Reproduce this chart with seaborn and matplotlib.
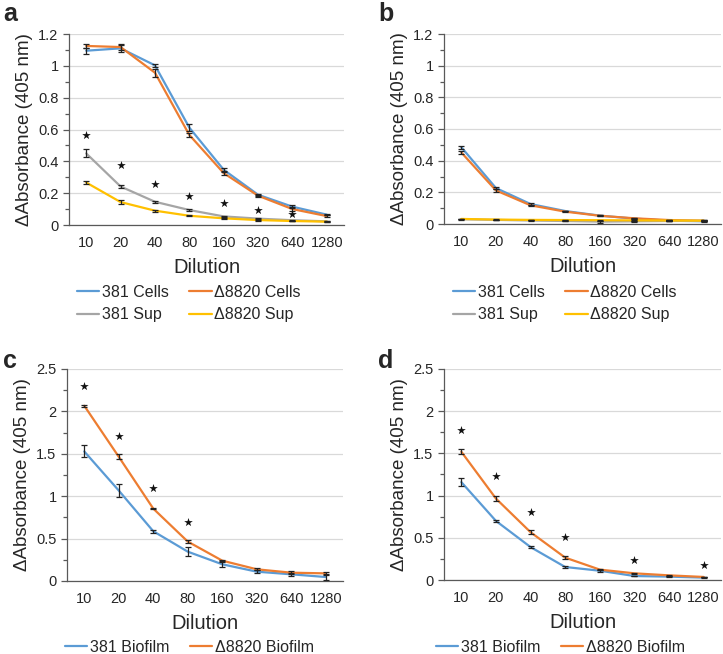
import numpy as np
import pandas as pd
import matplotlib
matplotlib.use("Agg")
import matplotlib.pyplot as plt
from matplotlib.ticker import MultipleLocator, FixedLocator
import seaborn as sns

dilutions = ["10", "20", "40", "80", "160", "320", "640", "1280"]

# Panel a
a_381_cells = [1.095, 1.11, 1.003, 0.612, 0.347, 0.19, 0.115, 0.065]
a_381_cells_err = [0.02, 0.02, 0.01, 0.02, 0.01, 0.005, 0.01, 0.005]
a_8820_cells = [1.125, 1.118, 0.957, 0.566, 0.326, 0.184, 0.1, 0.056]
a_8820_cells_err = [0.015, 0.02, 0.025, 0.015, 0.01, 0.005, 0.01, 0.005]
a_381_sup = [0.45, 0.242, 0.146, 0.094, 0.054, 0.04, 0.03, 0.023]
a_381_sup_err = [0.025, 0.01, 0.005, 0.005, 0.004, 0.003, 0.003, 0.003]
a_8820_sup = [0.267, 0.144, 0.09, 0.058, 0.042, 0.031, 0.025, 0.021]
a_8820_sup_err = [0.01, 0.012, 0.006, 0.004, 0.003, 0.003, 0.003, 0.003]
a_stars = [0.567, 0.374, 0.257, 0.18, 0.138, 0.094, 0.069, None]

# Panel b
b_381_cells = [0.485, 0.227, 0.126, 0.082, 0.053, 0.034, 0.021, 0.017]
b_381_cells_err = [0.01, 0.008, 0.005, 0.003, 0.003, 0.002, 0.002, 0.002]
b_8820_cells = [0.452, 0.212, 0.118, 0.078, 0.052, 0.036, 0.025, 0.021]
b_8820_cells_err = [0.01, 0.008, 0.005, 0.003, 0.003, 0.002, 0.002, 0.002]
b_381_sup = [0.03, 0.026, 0.022, 0.019, 0.015, 0.017, 0.019, 0.02]
b_381_sup_err = [0.003, 0.002, 0.002, 0.002, 0.006, 0.002, 0.002, 0.003]
b_8820_sup = [0.032, 0.028, 0.026, 0.025, 0.024, 0.023, 0.022, 0.021]
b_8820_sup_err = [0.002, 0.002, 0.002, 0.002, 0.002, 0.002, 0.002, 0.002]

# Panel c
c_381_biofilm = [1.528, 1.067, 0.587, 0.346, 0.197, 0.11, 0.079, 0.047]
c_381_biofilm_err = [0.07, 0.08, 0.02, 0.05, 0.03, 0.02, 0.02, 0.03]
c_8820_biofilm = [2.067, 1.465, 0.854, 0.465, 0.24, 0.138, 0.098, 0.09]
c_8820_biofilm_err = [0.01, 0.03, 0.01, 0.02, 0.01, 0.01, 0.02, 0.02]
c_stars = [2.295, 1.705, 1.094, 0.70, None, None, None, None]

# Panel d
d_381_biofilm = [1.16, 0.70, 0.39, 0.154, 0.11, 0.047, 0.04, 0.028]
d_381_biofilm_err = [0.05, 0.01, 0.01, 0.01, 0.01, 0.005, 0.005, 0.005]
d_8820_biofilm = [1.52, 0.965, 0.566, 0.265, 0.123, 0.079, 0.055, 0.036]
d_8820_biofilm_err = [0.03, 0.03, 0.025, 0.015, 0.01, 0.005, 0.005, 0.005]
d_stars = [1.78, 1.234, 0.807, 0.51, None, 0.237, None, 0.178]

BLUE, ORANGE, GRAY, YELLOW = "#5B9BD5", "#ED7D31", "#A5A5A5", "#FFC000"

sns.set_style("white")
plt.rcParams["font.family"] = ["Liberation Sans", "DejaVu Sans"]

fig = plt.figure(figsize=(7.23, 6.54), dpi=100)
W, H = 723, 654

def mk_axes(l, r, t, b):
    return fig.add_axes([l / W, 1 - b / H, (r - l) / W, (b - t) / H])

def draw(ax, series, legend_order, ymax, ystep, stars, leg_pos, label, label_pos):
    rows = []
    for name, vals, errs, col in series:
        for i, (v, e) in enumerate(zip(vals, errs)):
            rows.append({"pos": i, "val": v, "err": e, "series": name})
    df = pd.DataFrame(rows)
    names = [s[0] for s in series]
    pal = {s[0]: s[3] for s in series}
    sns.lineplot(data=df, x="pos", y="val", hue="series", hue_order=names,
                 palette=pal, ax=ax, linewidth=1.6, errorbar=None)
    for name in names:
        sub = df[df.series == name]
        ax.errorbar(sub.pos, sub.val, yerr=sub.err, fmt="none", ecolor="#222222",
                    elinewidth=0.9, capsize=2, capthick=0.9, zorder=5)
    if stars is not None:
        sx = [i for i, s in enumerate(stars) if s is not None]
        sy = [s for s in stars if s is not None]
        ax.scatter(sx, sy, marker="*", s=42, color="#111111", zorder=6, linewidths=0)
    ax.set_xlim(-0.5, 7.5)
    ax.set_ylim(0, ymax)
    ax.set_xticks(range(len(dilutions)))
    ax.set_xticklabels(dilutions, fontsize=10.5)
    ax.xaxis.set_minor_locator(FixedLocator(np.arange(-0.5, 8.0, 1.0)))
    ax.tick_params(axis="x", which="major", length=0, pad=8)
    ax.tick_params(axis="x", which="minor", length=4, direction="out", color="#595959", width=0.9)
    ax.yaxis.set_major_locator(MultipleLocator(ystep))
    ax.yaxis.set_minor_locator(MultipleLocator(ystep / 2))
    ax.tick_params(axis="y", which="major", length=4, direction="out", color="#595959",
                   width=0.9, labelsize=10.5, left=True)
    ax.tick_params(axis="y", which="minor", length=3, direction="out", color="#595959",
                   width=0.9, left=True)
    ax.yaxis.set_major_formatter(matplotlib.ticker.FuncFormatter(
        lambda v, p: ("%g" % round(v, 2))))
    ax.grid(axis="y", color="#D9D9D9", linewidth=0.9)
    ax.set_axisbelow(True)
    for sp in ["top", "right"]:
        ax.spines[sp].set_visible(False)
    for sp in ["left", "bottom"]:
        ax.spines[sp].set_color("#595959")
        ax.spines[sp].set_linewidth(0.9)
    ax.set_xlabel("Dilution", fontsize=14.5, labelpad=6)
    ax.set_ylabel("\u0394Absorbance (405 nm)", fontsize=13.5, labelpad=4)
    handles, labels = ax.get_legend_handles_labels()
    hmap = dict(zip(labels, handles))
    ax.legend([hmap[n] for n in legend_order], legend_order, loc="upper left",
              bbox_to_anchor=(leg_pos[0] / W, 1 - leg_pos[1] / H),
              bbox_transform=fig.transFigure, ncol=2, frameon=False,
              fontsize=11.5, handlelength=1.4, handletextpad=0.15,
              columnspacing=1.3, labelspacing=0.45, borderpad=0, borderaxespad=0)
    fig.text(label_pos[0] / W, 1 - label_pos[1] / H, label,
             fontsize=18, fontweight="bold", ha="left", va="center")

order4 = ["381 Cells", "381 Sup", "\u03948820 Cells", "\u03948820 Sup"]
order2 = ["381 Biofilm", "\u03948820 Biofilm"]

ax_a = mk_axes(69, 344, 34, 225)
draw(ax_a, [("381 Cells", a_381_cells, a_381_cells_err, BLUE),
            ("\u03948820 Cells", a_8820_cells, a_8820_cells_err, ORANGE),
            ("381 Sup", a_381_sup, a_381_sup_err, GRAY),
            ("\u03948820 Sup", a_8820_sup, a_8820_sup_err, YELLOW)],
     order4, 1.2, 0.2, a_stars, (77, 285), "a", (3, 14))

ax_b = mk_axes(444, 721, 34, 224)
draw(ax_b, [("381 Cells", b_381_cells, b_381_cells_err, BLUE),
            ("\u03948820 Cells", b_8820_cells, b_8820_cells_err, ORANGE),
            ("381 Sup", b_381_sup, b_381_sup_err, GRAY),
            ("\u03948820 Sup", b_8820_sup, b_8820_sup_err, YELLOW)],
     order4, 1.2, 0.2, None, (453, 285), "b", (378, 14))

ax_c = mk_axes(67, 343, 369, 581)
draw(ax_c, [("381 Biofilm", c_381_biofilm, c_381_biofilm_err, BLUE),
            ("\u03948820 Biofilm", c_8820_biofilm, c_8820_biofilm_err, ORANGE)],
     order2, 2.5, 0.5, c_stars, (65, 640), "c", (3, 361))

ax_d = mk_axes(444, 721, 369, 580)
draw(ax_d, [("381 Biofilm", d_381_biofilm, d_381_biofilm_err, BLUE),
            ("\u03948820 Biofilm", d_8820_biofilm, d_8820_biofilm_err, ORANGE)],
     order2, 2.5, 0.5, d_stars, (436, 640), "d", (378, 361))

fig.savefig("out.png", dpi=100)
